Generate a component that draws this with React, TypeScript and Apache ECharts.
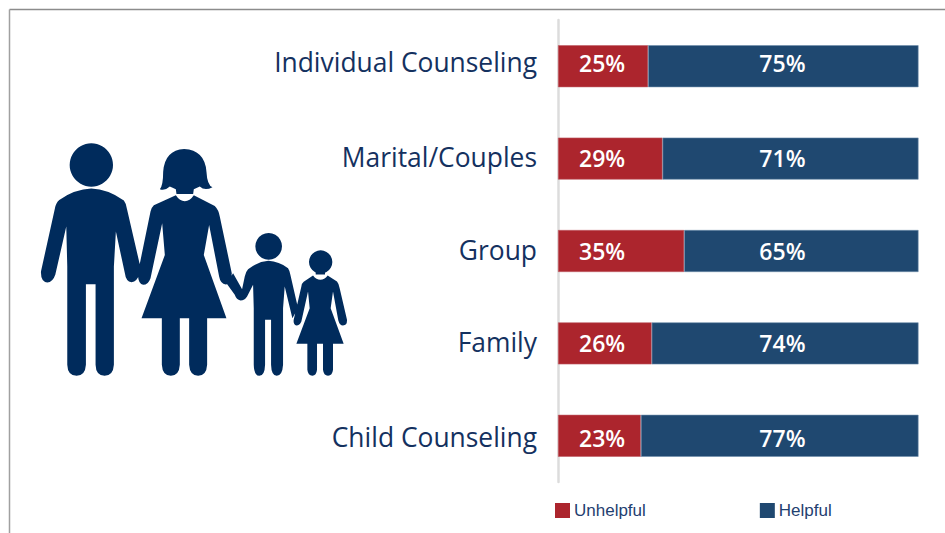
import React, { useEffect, useRef } from "react";
import * as echarts from "echarts";

const categories = ["Individual Counseling", "Marital/Couples", "Group", "Family", "Child Counseling"];
const unhelpful = [25, 29, 35, 26, 23];
const helpful = [75, 71, 65, 74, 77];

const NAVY = "#002B5C";
const TEXT = "#14315F";
const LEGEND_TEXT = "#1F4070";
const RED = "#AC252D";
const BLUE = "#1F4870";
const FONT = '"Open Sans", sans-serif';

// vertical nudges of the reference's hand-placed text, per row
const categoryNudge = [-4, -2, -1, -1, 1];
const valueNudge = [-3, -1, 0, 0, 2];

const familyPath =
  // man
  "M178 210 Q225 178 274 176 Q325 178 372 212 Q380 222 382 240 L420 405 L420 430 Q412 455 395 457 Q378 455 375 430 L348 305 L342 410 L342 705 Q340 738 314 738 Q288 738 287 705 L287 463 L258 463 L258 705 Q256 738 230 738 Q203 738 202 705 L202 410 L199 290 L166 435 Q158 458 142 458 Q122 455 123 425 L165 235 Q168 218 178 210 Z " +
  // woman hair and neck
  "M553 57 Q615 60 620 125 Q622 165 638 172 Q615 184 600 170 L582 178 L580 192 L530 192 L528 178 L510 170 Q495 184 480 178 Q490 165 490 125 Q495 60 553 57 Z " +
  // woman body
  "M528 196 Q540 214 555 214 Q570 214 582 196 L645 228 Q657 240 660 260 L696 430 Q695 462 678 464 Q662 462 658 440 L628 285 L612 375 L680 565 L622 565 L622 705 Q620 738 595 738 Q570 738 568 705 L568 565 L540 565 L540 705 Q538 738 513 738 Q488 738 486 705 L486 565 L425 565 L495 375 L487 280 L452 445 Q445 465 430 465 Q412 460 415 425 L452 245 Q455 232 462 226 Z " +
  // boy
  "M745 418 Q775 395 806 393 Q838 395 865 415 Q870 422 872 435 L895 535 L878 565 L855 470 L850 535 L850 705 Q848 738 831 738 Q815 738 814 705 L814 570 L796 570 L796 705 Q795 738 779 738 Q763 738 762 705 L762 535 L760 465 L742 500 Q735 512 722 512 Q710 510 705 495 L680 460 L700 430 L727 478 L735 440 Q738 425 745 418 Z " +
  // girl neck
  "M948 425 L976 425 L976 434 L948 434 Z " +
  // girl
  "M940 437 Q950 450 962 450 Q974 450 984 437 L1012 455 Q1018 462 1020 475 L1042 570 Q1043 587 1030 587 Q1020 587 1016 572 L1000 485 L993 535 L1032 642 L1000 642 L1000 720 Q998 738 985 738 Q972 738 970 720 L970 642 L952 642 L952 720 Q950 738 938 738 Q925 738 923 720 L923 642 L890 642 L930 535 L925 485 L905 575 Q900 587 890 587 Q880 585 882 570 L905 470 Q905 462 912 456 Z";

echarts.graphic.registerShape("family", echarts.graphic.extendPath(familyPath, {}) as any);

const headCircle = (cx: number, cy: number, r: number) => ({
  type: "circle",
  silent: true,
  shape: { cx: cx / 3, cy: 130 + cy / 3, r: r / 3 },
  style: { fill: NAVY },
});

export default function App() {
  const ref = useRef<HTMLDivElement>(null);
  useEffect(() => {
    document.body.style.margin = "0";
    const chart = echarts.init(ref.current!, undefined, { renderer: "svg" });
    const barSeries = (name: string, values: number[], color: string, edge: string, position: string, distance: number) => ({
      name,
      type: "bar",
      stack: "total",
      data: values.map((value, i) => ({ value, label: { offset: [0, valueNudge[i]] } })),
      barWidth: 42,
      itemStyle: { color, borderColor: edge, borderWidth: 0.6 },
      label: {
        show: true,
        position,
        distance,
        formatter: "{c}%",
        color: "#FFFFFF",
        fontFamily: FONT,
        fontSize: 23,
        fontWeight: 600,
      },
    });
    const rich: Record<string, any> = {};
    categoryNudge.forEach((n, i) => {
      rich["r" + i] = {
        color: TEXT,
        fontFamily: FONT,
        fontSize: 26.4,
        padding: n < 0 ? [0, 0, -2 * n, 0] : [2 * n, 0, 0, 0],
      };
    });
    chart.setOption({
      animation: false,
      backgroundColor: "#FFFFFF",
      grid: { left: 558, top: 20, width: 360.5, height: 462 },
      xAxis: { type: "value", min: 0, max: 100, show: false },
      yAxis: {
        type: "category",
        inverse: true,
        data: categories,
        axisTick: { show: false },
        axisLine: { show: true, lineStyle: { color: "#DCDCDC", width: 2.5 } },
        axisLabel: {
          margin: 21,
          formatter: (v: string) => `{r${categories.indexOf(v)}|${v}}`,
          rich,
        },
      },
      legend: {
        left: 555,
        top: 502,
        padding: 0,
        itemWidth: 15,
        itemHeight: 15,
        itemGap: 114,
        icon: "rect",
        itemStyle: { borderWidth: 0 },
        textStyle: { color: LEGEND_TEXT, fontFamily: '"Liberation Sans", Arial, sans-serif', fontSize: 17, padding: [3, 0, 0, -1] },
        data: ["Unhelpful", "Helpful"],
      },
      series: [
        barSeries("Unhelpful", unhelpful, RED, "#C06068", "insideLeft", 21),
        barSeries("Helpful", helpful, BLUE, "#6F8DAB", "insideRight", 113),
      ],
      graphic: [
        { type: "line", silent: true, shape: { x1: 9.5, y1: 9.5, x2: 945, y2: 9.5 }, style: { stroke: "#8C8C8C", lineWidth: 1.5 } },
        { type: "line", silent: true, shape: { x1: 9.5, y1: 9.5, x2: 9.5, y2: 533 }, style: { stroke: "#A0A0A0", lineWidth: 1.5 } },
        { type: "family", silent: true, x: 0, y: 130, scaleX: 1 / 3, scaleY: 1 / 3, style: { fill: NAVY } },
        headCircle(274, 105, 65),
        headCircle(806, 349, 40),
        headCircle(962, 396, 35),
      ],
    });
    return () => chart.dispose();
  }, []);
  return <div ref={ref} style={{ width: 945, height: 533 }} />;
}
